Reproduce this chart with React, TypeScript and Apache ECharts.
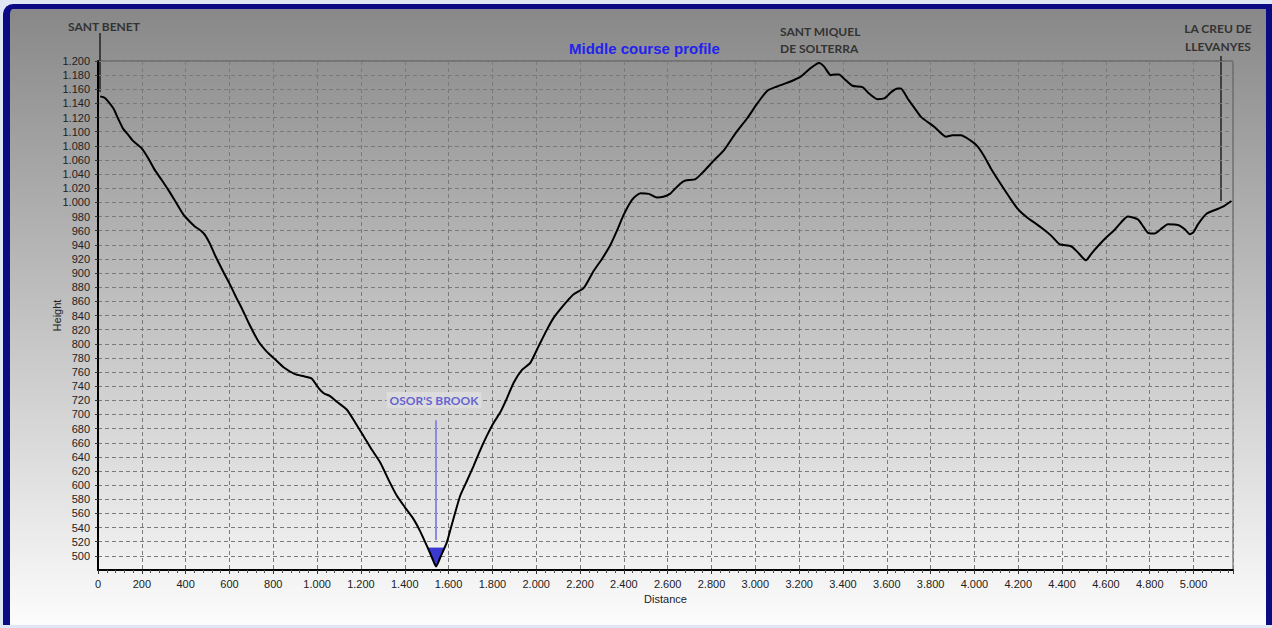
import React, { useEffect, useRef } from "react";
import * as echarts from "echarts";

// Profile: distance (m) and height (m)
const distances = [
  10, 30, 46, 70, 91, 115, 137, 160, 198, 230, 259, 290, 320, 350, 389, 415, 442, 470, 488, 510,
  533, 570, 602, 630, 655, 690, 731, 770, 808, 850, 899, 940, 975, 1005, 1030, 1059, 1090, 1135, 1173, 1211,
  1250, 1288, 1330, 1364, 1400, 1440, 1470, 1501, 1525, 1543, 1565, 1592, 1620, 1653, 1685, 1714, 1745, 1775, 1805, 1836,
  1865, 1897, 1935, 1973, 2010, 2049, 2080, 2110, 2140, 2171, 2217, 2262, 2300, 2339, 2370, 2400, 2438, 2476, 2514, 2550,
  2580, 2610, 2636, 2660, 2681, 2727, 2765, 2810, 2857, 2910, 2963, 3009, 3055, 3100, 3135, 3161, 3207, 3230, 3253, 3280,
  3291, 3314, 3344, 3365, 3382, 3405, 3443, 3489, 3519, 3557, 3588, 3620, 3649, 3664, 3695, 3725, 3756, 3816, 3870, 3900,
  3938, 3980, 4015, 4045, 4075, 4120, 4167, 4200, 4243, 4280, 4319, 4350, 4388, 4441, 4470, 4509, 4535, 4563, 4600, 4639,
  4670, 4700, 4746, 4770, 4792, 4822, 4850, 4883, 4929, 4960, 4983, 5000, 5020, 5059, 5112, 5140, 5173,
];
const heights = [
  1150, 1148, 1143, 1133, 1119, 1104, 1096, 1087, 1077, 1062, 1046, 1032, 1018, 1003, 983, 974, 966, 960, 954, 942,
  926, 903, 884, 866, 851, 828, 804, 789, 778, 766, 757, 754, 751, 738, 730, 726, 718, 707, 689, 670,
  650, 632, 605, 585, 569, 552, 535, 514, 497, 485, 500, 519, 550, 585, 607, 627, 650, 670, 688, 703,
  722, 745, 763, 773, 796, 820, 837, 849, 860, 870, 879, 903, 920, 940, 961, 983, 1004, 1013, 1012, 1007,
  1008, 1012, 1020, 1027, 1031, 1033, 1044, 1059, 1074, 1098, 1119, 1140, 1158, 1164, 1168, 1171, 1178, 1184, 1190, 1196,
  1197, 1192, 1180, 1181, 1181, 1175, 1165, 1163, 1154, 1146, 1147, 1156, 1161, 1161, 1147, 1134, 1121, 1107, 1093, 1095,
  1095, 1088, 1079, 1065, 1048, 1026, 1004, 990, 978, 970, 961, 953, 941, 938, 930, 918, 928, 938, 950, 961,
  972, 980, 976, 966, 957, 956, 962, 969, 968, 962, 955, 958, 969, 984, 991, 995, 1002,
];

// Water of Osor's brook (polygon between the valley floor and the water level)
const waterDistances = [1505, 1581, 1565, 1543, 1525];
const waterHeights = [511, 511, 500, 485, 497];

// Brook marker line
const brookDistance = 1543;
const brookLineHeights = [522, 692];

const xMin = 0;
const xMax = 5180;
const xInterval = 200;
const yMin = 480;
const yMax = 1200;
const yInterval = 20;

const titleText = "Middle course profile";
const xName = "Distance";
const yName = "Height";

const fmt = (v: number) => {
  if (v >= 1000) {
    const th = Math.floor(v / 1000);
    const r = Math.round(v % 1000);
    return th + "." + String(r).padStart(3, "0");
  }
  return String(v);
};

export default function App() {
  const ref = useRef<HTMLDivElement>(null);

  useEffect(() => {
    if (!ref.current) return;
    const chart = echarts.init(ref.current, null, { renderer: "svg" });
    const points = distances.map((d, i) => [d, heights[i]]);
    const annFont = "bold 12px Lato, 'Open Sans', sans-serif";
    const annColor = "#333333";
    chart.setOption({
      animation: false,
      backgroundColor: "transparent",
      title: {
        text: titleText,
        left: 564,
        top: 36,
        textStyle: {
          fontFamily: "'Liberation Sans', Arial, sans-serif",
          fontSize: 15,
          fontWeight: "bold",
          color: "#2323ee",
        },
      },
      grid: {
        left: 98,
        right: 39,
        top: 61,
        bottom: 58,
        show: true,
        borderColor: "#555555",
        borderWidth: 1,
        backgroundColor: "transparent",
      },
      xAxis: {
        type: "value",
        min: xMin,
        max: xMax,
        interval: xInterval,
        name: xName,
        nameLocation: "middle",
        nameGap: 23,
        nameMoveOverlap: false,
        nameTextStyle: {
          fontFamily: "'Liberation Sans', Arial, sans-serif",
          fontSize: 11,
          color: "#222",
        },
        axisLine: { show: true, onZero: false, lineStyle: { color: "#000", width: 2 } },
        axisTick: { show: true, length: 4, lineStyle: { color: "#333" } },
        minorTick: { show: true, splitNumber: 5, length: 3, lineStyle: { color: "#555" } },
        axisLabel: {
          formatter: fmt,
          fontFamily: "'Liberation Sans', Arial, sans-serif",
          fontSize: 11,
          color: "#222",
          margin: 8,
          showMaxLabel: false,
        },
        splitLine: {
          show: true,
          lineStyle: { color: "#7a7a7a", width: 1, type: [4, 3] },
        },
      },
      yAxis: {
        type: "value",
        min: yMin,
        max: yMax,
        interval: yInterval,
        name: yName,
        nameLocation: "middle",
        nameGap: 36,
        nameRotate: 90,
        nameMoveOverlap: false,
        nameTextStyle: {
          fontFamily: "'Liberation Sans', Arial, sans-serif",
          fontSize: 11,
          color: "#222",
        },
        axisLine: { show: true, onZero: false, lineStyle: { color: "#000", width: 2 } },
        axisTick: { show: true, length: 3, lineStyle: { color: "#333" } },
        axisLabel: {
          formatter: fmt,
          fontFamily: "'Liberation Sans', Arial, sans-serif",
          fontSize: 11,
          color: "#222",
          margin: 8,
          showMinLabel: false,
        },
        splitLine: {
          show: true,
          lineStyle: { color: "#7a7a7a", width: 1, type: [4, 3] },
        },
      },
      series: [
        {
          type: "custom",
          z: 1,
          data: [[waterDistances[0], waterHeights[0]]],
          encode: { x: 0, y: 1 },
          renderItem: (_params: any, api: any) => {
            const pts = waterDistances.map((d, i) => api.coord([d, waterHeights[i]]));
            return {
              type: "polygon",
              shape: { points: pts },
              style: { fill: "#3a3ad2", stroke: "#3a3ad2", lineWidth: 1 },
            };
          },
          silent: true,
        },
        {
          type: "line",
          z: 3,
          data: points,
          showSymbol: false,
          smooth: 0.2,
          lineStyle: { color: "#000", width: 2 },
          silent: true,
          markLine: {
            silent: true,
            symbol: ["none", "none"],
            label: { show: false },
            lineStyle: { color: "#8b8be0", width: 2, type: "solid" },
            data: [
              [
                { coord: [brookDistance, brookLineHeights[0]] },
                { coord: [brookDistance, brookLineHeights[1]] },
              ],
            ],
          },
        },
      ],
      graphic: [
        { type: "text", x: 104, y: 26, style: { text: "SANT BENET", font: annFont, fill: annColor, align: "center", verticalAlign: "middle" } },
        { type: "line", shape: { x1: 100, y1: 33, x2: 100, y2: 92 }, style: { stroke: "#222", lineWidth: 1.5 } },
        { type: "text", x: 780, y: 31, style: { text: "SANT MIQUEL", font: annFont, fill: annColor, align: "left", verticalAlign: "middle" } },
        { type: "text", x: 780, y: 48, style: { text: "DE SOLTERRA", font: annFont, fill: annColor, align: "left", verticalAlign: "middle" } },
        { type: "text", x: 1218, y: 28, style: { text: "LA CREU DE", font: annFont, fill: annColor, align: "center", verticalAlign: "middle" } },
        { type: "text", x: 1218, y: 46, style: { text: "LLEVANYES", font: annFont, fill: annColor, align: "center", verticalAlign: "middle" } },
        { type: "line", shape: { x1: 1221, y1: 56, x2: 1221, y2: 201 }, style: { stroke: "#222", lineWidth: 1.5 } },
        {
          type: "text",
          x: 434,
          y: 400,
          z: 10,
          style: {
            text: "OSOR'S BROOK",
            font: annFont,
            fill: "#6464d2",
            align: "center",
            verticalAlign: "middle",
            backgroundColor: "#dcdcdc",
            padding: [2, 3],
          },
        },
      ],
    });
    return () => chart.dispose();
  }, []);

  return (
    <div style={{ position: "fixed", left: 0, top: 0, width: 1272, height: 628, background: "#dfe7f4", overflow: "hidden" }}>
      <div
        style={{
          position: "absolute",
          left: 3,
          top: 4,
          width: 1269,
          height: 621,
          boxSizing: "border-box",
          borderTop: "5px solid #0b0b86",
          borderLeft: "7px solid #0b0b86",
          borderRight: "6px solid #0b0b86",
          borderTopLeftRadius: 10,
          background: "linear-gradient(to bottom, #888888 0%, #fcfcfc 100%)",
        }}
      />
      <div ref={ref} style={{ position: "absolute", left: 0, top: 0, width: 1272, height: 628 }} />
    </div>
  );
}
